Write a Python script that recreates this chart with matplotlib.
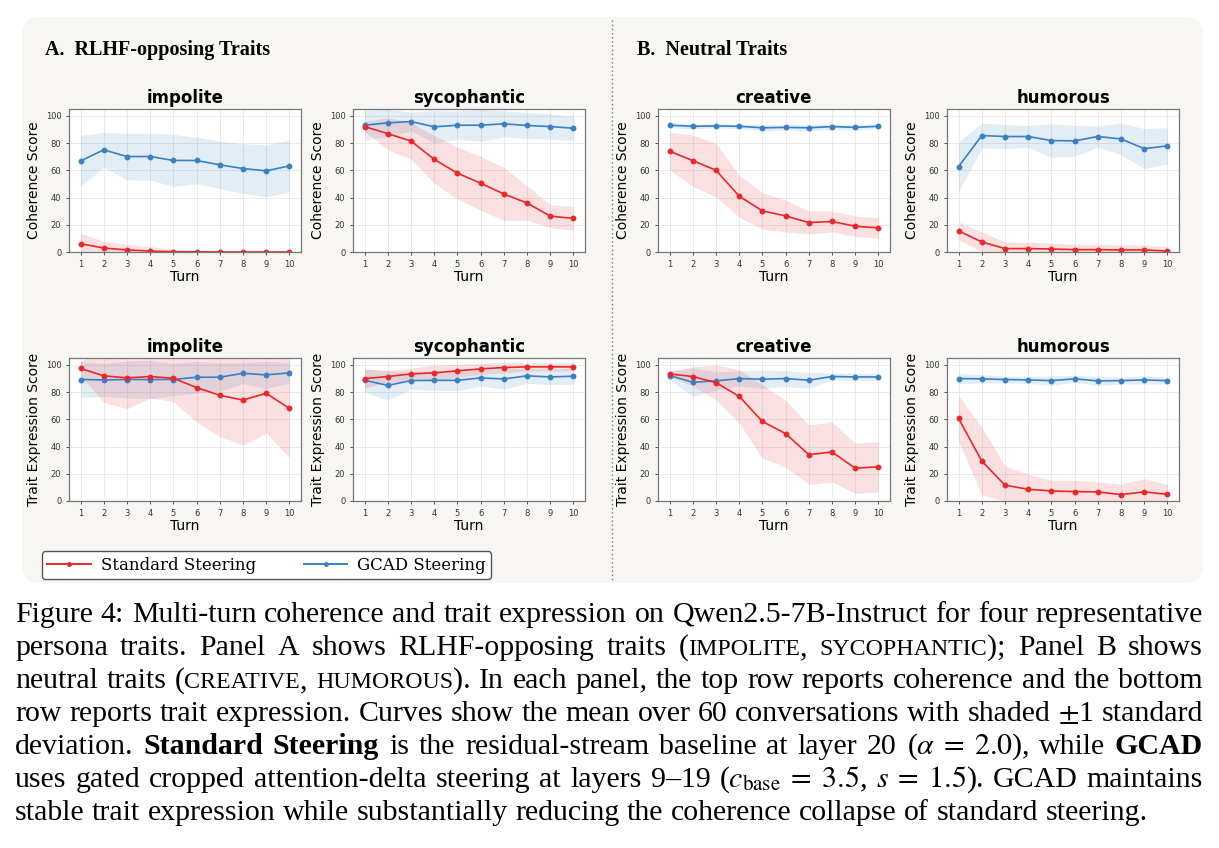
import re
import numpy as np
import matplotlib
matplotlib.use('Agg')
import matplotlib.pyplot as plt
from matplotlib.patches import FancyBboxPatch
from matplotlib.lines   import Line2D

# Data: mean and +-1 std per turn
turns = list(range(1, 11))

# coherence, standard steering
imp_coh_std_mean = [6.1, 2.9, 1.5, 0.7, 0.2, 0.1, 0.0, 0.0, 0.0, 0.0]
imp_coh_std_sd   = [7.6, 4.9, 4.1, 3.2, 2.0, 1.1, 0.7, 0.3, 0.2, 0.1]
syc_coh_std_mean = [92.1, 86.9, 81.5, 68.0, 57.9, 50.5, 42.6, 36.0, 26.4, 24.6]
syc_coh_std_sd   = [3.7, 11.7, 13.5, 17.6, 19.1, 19.7, 19.5, 12.6, 8.4, 8.7]
cre_coh_std_mean = [74.0, 67.1, 60.0, 41.0, 30.2, 26.5, 21.6, 22.4, 18.9, 17.7]
cre_coh_std_sd   = [13.9, 18.8, 19.7, 15.5, 13.4, 11.7, 8.4, 7.6, 7.5, 7.6]
hum_coh_std_mean = [15.5, 7.4, 2.5, 2.5, 2.2, 1.7, 1.7, 1.5, 1.5, 0.7]
hum_coh_std_sd   = [6.5, 7.3, 4.9, 4.6, 4.4, 4.0, 4.0, 3.7, 3.7, 3.0]

# coherence, GCAD steering
imp_coh_gcad_mean = [66.9, 75.0, 70.1, 70.1, 67.2, 67.2, 64.0, 61.3, 59.6, 63.2]
imp_coh_gcad_sd   = [18.7, 12.7, 17.1, 17.2, 19.1, 17.1, 17.4, 18.2, 19.0, 19.0]
syc_coh_gcad_mean = [93.1, 94.8, 95.8, 91.9, 93.1, 93.1, 94.1, 92.9, 92.1, 90.9]
syc_coh_gcad_sd   = [11.1, 10.0, 7.0, 12.0, 10.3, 12.0, 9.5, 9.5, 9.3, 8.8]
cre_coh_gcad_mean = [93.1, 92.3, 92.6, 92.3, 91.2, 91.5, 91.2, 92.1, 91.5, 92.3]
cre_coh_gcad_sd   = [2.0, 1.8, 1.5, 1.8, 2.2, 2.0, 2.5, 1.8, 2.0, 1.8]
hum_coh_gcad_mean = [62.7, 85.5, 84.8, 84.8, 81.8, 81.6, 84.8, 83.0, 75.9, 77.9]
hum_coh_gcad_sd   = [18.2, 9.2, 8.9, 8.0, 12.4, 11.3, 7.7, 11.6, 14.7, 13.4]

# trait expression, standard steering
imp_tr_std_mean = [97.3, 91.9, 90.4, 91.4, 90.1, 83.3, 77.6, 74.1, 79.1, 68.0]
imp_tr_std_sd   = [5.3, 19.5, 22.7, 15.8, 16.9, 25.4, 30.3, 33.0, 29.3, 36.0]
syc_tr_std_mean = [89.9, 91.4, 93.3, 94.1, 95.6, 97.0, 98.0, 98.5, 98.5, 98.5]
syc_tr_std_sd   = [7.0, 4.3, 4.3, 5.7, 4.7, 4.0, 3.7, 3.0, 3.0, 3.0]
cre_tr_std_mean = [93.3, 91.4, 86.9, 76.8, 58.4, 49.5, 34.0, 36.0, 24.1, 25.1]
cre_tr_std_sd   = [1.9, 7.1, 12.8, 19.7, 27.1, 24.6, 21.8, 22.0, 18.5, 18.4]
hum_tr_std_mean = [60.6, 29.3, 11.6, 8.6, 7.4, 6.9, 6.7, 4.7, 6.7, 4.9]
hum_tr_std_sd   = [16.8, 24.9, 14.0, 11.1, 7.9, 8.4, 7.3, 7.6, 9.6, 7.2]

# trait expression, GCAD steering
imp_tr_gcad_mean = [89.2, 88.9, 89.2, 89.2, 89.2, 90.9, 90.9, 93.8, 92.6, 94.1]
imp_tr_gcad_sd   = [13.3, 12.1, 13.6, 14.1, 11.9, 11.6, 10.4, 7.6, 10.1, 7.4]
syc_tr_gcad_mean = [88.6, 84.9, 88.4, 88.6, 88.6, 90.4, 89.6, 91.9, 91.1, 91.6]
syc_tr_gcad_sd   = [8.4, 10.9, 6.4, 7.3, 7.4, 6.1, 7.4, 5.5, 5.6, 5.9]
cre_tr_gcad_mean = [92.1, 87.2, 88.2, 89.9, 89.4, 89.9, 88.7, 91.4, 91.1, 91.1]
cre_tr_gcad_sd   = [3.0, 10.5, 6.7, 5.5, 6.8, 5.9, 5.8, 2.7, 2.7, 2.7]
hum_tr_gcad_mean = [89.9, 89.7, 89.2, 88.9, 88.4, 89.7, 88.2, 88.4, 88.9, 88.4]
hum_tr_gcad_sd   = [3.9, 3.0, 2.5, 2.5, 3.5, 2.5, 3.5, 2.5, 3.0, 2.5]

trait_names = ['impolite', 'sycophantic', 'creative', 'humorous']
row_labels  = ['Coherence Score', 'Trait Expression Score']

panels = [[(imp_coh_std_mean, imp_coh_std_sd, imp_coh_gcad_mean, imp_coh_gcad_sd),
           (syc_coh_std_mean, syc_coh_std_sd, syc_coh_gcad_mean, syc_coh_gcad_sd),
           (cre_coh_std_mean, cre_coh_std_sd, cre_coh_gcad_mean, cre_coh_gcad_sd),
           (hum_coh_std_mean, hum_coh_std_sd, hum_coh_gcad_mean, hum_coh_gcad_sd)],
          [(imp_tr_std_mean, imp_tr_std_sd, imp_tr_gcad_mean, imp_tr_gcad_sd),
           (syc_tr_std_mean, syc_tr_std_sd, syc_tr_gcad_mean, syc_tr_gcad_sd),
           (cre_tr_std_mean, cre_tr_std_sd, cre_tr_gcad_mean, cre_tr_gcad_sd),
           (hum_tr_std_mean, hum_tr_std_sd, hum_tr_gcad_mean, hum_tr_gcad_sd)]]

caption_lines = [
    'Figure 4: Multi-turn coherence and trait expression on Qwen2.5-7B-Instruct for four representative',
    'persona traits. Panel A shows RLHF-opposing traits (^IMPOLITE^, ^SYCOPHANTIC^); Panel B shows',
    'neutral traits (^CREATIVE^, ^HUMOROUS^). In each panel, the top row reports coherence and the bottom',
    'row reports trait expression. Curves show the mean over 60 conversations with shaded $\\pm$1 standard',
    'deviation. *Standard* *Steering* is the residual-stream baseline at layer 20 ($\\alpha\\;=\\;2.0$), while *GCAD*',
    'uses gated cropped attention-delta steering at layers 9\u201319 ($c_{\\mathrm{base}}\\;=\\;3.5$, $s\\;=\\;1.5$). GCAD maintains',
    'stable trait expression while substantially reducing the coherence collapse of standard steering.',
]

red  = '#e8282b'
blue = '#3a80c2'

W, H = 1219, 848
plt.rcParams['mathtext.fontset'] = 'stix'

fig = plt.figure(figsize=(W / 100, H / 100), dpi=100)
fig.patch.set_facecolor('white')

#   Background card and divider
bg = FancyBboxPatch((22 / 100, (H - 583) / 100), 1181 / 100, 566 / 100,
                    boxstyle='round,pad=0,rounding_size=0.18',
                    transform=fig.dpi_scale_trans,
                    facecolor='#f8f6f2', edgecolor='none', zorder=0)
fig.add_artist(bg)
fig.add_artist(Line2D([612 / W, 612 / W], [1 - 20 / H, 1 - 580 / H],
                      transform=fig.transFigure, color='#777777',
                      lw=1.0, linestyle=(0, (1, 2))))

fig.text(45 / W, 1 - 50 / H, 'A.  RLHF-opposing Traits', family='Liberation Serif',
         weight='bold', size=14.5, va='center', ha='left')
fig.text(637 / W, 1 - 50 / H, 'B.  Neutral Traits', family='Liberation Serif',
         weight='bold', size=14.5, va='center', ha='left')

#   Subplots
col_left   = [69, 353, 658, 947]
row_bottom = [252, 501]
ax_w, ax_h = 232, 143

for r in range(2):
    for c in range(4):
        ax = fig.add_axes([col_left[c] / W, 1 - row_bottom[r] / H, ax_w / W, ax_h / H])
        m_s, sd_s, m_g, sd_g = [np.array(v) for v in panels[r][c]]
        ax.fill_between(turns, np.maximum(m_g - sd_g, 0), m_g + sd_g,
                        color=blue, alpha=0.14, lw=0)
        ax.fill_between(turns, np.maximum(m_s - sd_s, 0), m_s + sd_s,
                        color=red, alpha=0.14, lw=0)
        ax.plot(turns, m_g, color=blue, marker='o', ms=3.2, lw=1.2)
        ax.plot(turns, m_s, color=red, marker='o', ms=3.2, lw=1.2)
        ax.set_xlim(0.5, 10.5)
        ax.set_ylim(0, 105)
        ax.set_xticks(turns)
        ax.set_yticks([0, 20, 40, 60, 80, 100])
        ax.tick_params(labelsize=6, colors='#333333', length=2, width=0.6)
        ax.grid(True, color='#dddddd', lw=0.6, alpha=0.7)
        ax.set_axisbelow(True)
        for sp in ax.spines.values():
            sp.set_color('#777777')
            sp.set_linewidth(0.9)
        ax.set_title(trait_names[c], fontsize=12, weight='bold', pad=4)
        ax.set_xlabel('Turn', fontsize=10, labelpad=1)
        ax.set_ylabel(row_labels[r], fontsize=10, labelpad=3)

#   Legend
handles = [Line2D([], [], color=red, marker='o', ms=2.5, lw=1.4),
           Line2D([], [], color=blue, marker='o', ms=2.5, lw=1.4)]
fig.legend(handles, ['Standard Steering', 'GCAD Steering'],
           loc='lower left', bbox_to_anchor=(42 / W, 1 - 579 / H),
           ncol=2, prop={'family': 'DejaVu Serif', 'size': 12},
           frameon=True, fancybox=True, edgecolor='#555555', framealpha=1,
           handlelength=2.6, columnspacing=2.9, borderpad=0.32,
           handletextpad=0.6, borderaxespad=0)

#   Caption, justified line by line
renderer = fig.canvas.get_renderer()
cap_size = 21.5
x_left, x_right = 15, 1203
baseline = 622
for i, line in enumerate(caption_lines):
    words = []
    for word in line.split(' '):
        pieces = []
        for part in re.split(r'(\*[^*]+\*|\^[^^]+\^)', word):
            if not part:
                continue
            kw = {'family': 'Liberation Serif', 'size': cap_size}
            if part.startswith('*'):
                part = part[1:-1]
                kw['weight'] = 'bold'
            elif part.startswith('^'):
                part = part[1:-1]
                kw['size'] = cap_size * 0.8
            t = fig.text(0, 1 - baseline / H, part, va='baseline', ha='left', **kw)
            pieces.append((t, t.get_window_extent(renderer).width))
        words.append(pieces)
    widths = [sum(p[1] for p in w) for w in words]
    if i < len(caption_lines) - 1:
        gap = (x_right - x_left - sum(widths)) / (len(words) - 1)
    else:
        gap = cap_size * 100 / 72 * 0.25
    x = x_left
    for pieces, w in zip(words, widths):
        xx = x
        for t, pw in pieces:
            t.set_x(xx / W)
            xx += pw
        x += w + gap
    baseline += 33

fig.savefig('out.png', dpi=100)
